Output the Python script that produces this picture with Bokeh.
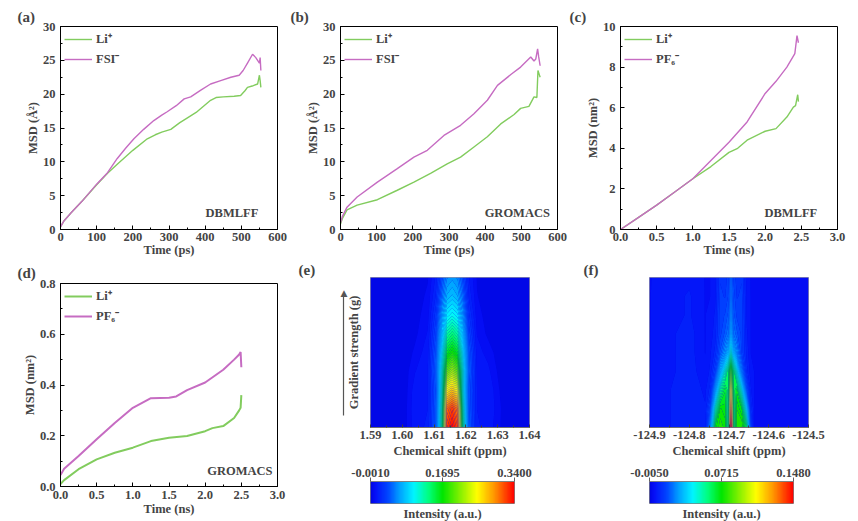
import numpy as np
from bokeh.plotting import figure
from bokeh.layouts import row, column
from bokeh.models import (Legend, LegendItem, Label, SingleIntervalTicker, FixedTicker,
                          PrintfTickFormatter, LinearAxis, LinearColorMapper, Range1d)
from bokeh.embed import file_html
from bokeh.resources import INLINE

FONT = "Liberation Serif"
GREEN = "#82cc5e"
PURPLE = "#c66cc2"

# ---- (a) DBMLFF, LiFSI, MSD in A^2 vs time in ps
a_t_li = [0, 10, 30, 60, 100, 130, 160, 200, 240, 262, 280, 305, 330, 351, 375, 397,
          415, 430, 450, 480, 498, 510, 517, 530, 545, 550, 552, 554]
a_li = [0.4, 1.3, 2.5, 4.2, 6.6, 8.3, 9.8, 11.7, 13.4, 14.0, 14.4, 14.8, 15.8, 16.5, 17.3,
        18.3, 19.1, 19.5, 19.6, 19.7, 19.8, 20.5, 21.0, 21.2, 21.5, 22.8, 22.0, 21.0]
a_t_fsi = [0, 10, 30, 60, 100, 130, 157, 180, 203, 230, 258, 280, 295, 320, 342, 360, 388,
           415, 443, 471, 494, 505, 517, 531, 540, 545, 550, 552, 554]
a_fsi = [0.4, 1.3, 2.5, 4.2, 6.7, 8.4, 10.5, 12.0, 13.4, 14.8, 16.1, 16.9, 17.4, 18.3, 19.3,
         19.6, 20.6, 21.5, 22.0, 22.5, 22.8, 23.5, 24.6, 25.9, 25.4, 25.0, 24.6, 25.4, 23.5]

# ---- (b) GROMACS, LiFSI
b_t_li = [0, 5, 18, 46, 102, 157, 203, 249, 295, 332, 369, 406, 443, 480, 498, 521, 535,
          543, 546, 549, 552]
b_li = [0.8, 1.6, 2.9, 3.6, 4.4, 5.8, 7.0, 8.3, 9.7, 10.7, 12.2, 13.7, 15.6, 17.0, 17.9,
        18.2, 19.6, 19.5, 23.5, 23.0, 22.5]
b_t_fsi = [0, 5, 18, 46, 102, 157, 203, 240, 286, 332, 369, 406, 434, 471, 498, 526, 535,
           540, 545, 548, 552]
b_fsi = [1.0, 1.9, 3.3, 4.8, 7.0, 9.0, 10.7, 11.7, 13.9, 15.4, 17.1, 19.1, 21.3, 22.9, 24.0,
         25.5, 24.9, 25.2, 26.7, 25.5, 24.2]

# ---- (c) DBMLFF, LiPF6, MSD in nm^2 vs time in ns
c_t_li = [0, 0.25, 0.5, 0.75, 1.0, 1.25, 1.5, 1.62, 1.75, 2.0, 2.15, 2.3, 2.39, 2.42, 2.45, 2.46]
c_li = [0, 0.6, 1.2, 1.85, 2.5, 3.1, 3.8, 4.0, 4.4, 4.84, 4.97, 5.54, 6.03, 6.1, 6.64, 6.3]
c_t_pf = [0, 0.25, 0.5, 0.75, 1.0, 1.25, 1.5, 1.75, 2.0, 2.15, 2.3, 2.41, 2.44, 2.46]
c_pf = [0, 0.6, 1.2, 1.85, 2.5, 3.4, 4.3, 5.3, 6.7, 7.3, 8.0, 8.66, 9.55, 9.2]

# ---- (d) GROMACS, LiPF6
d_t_li = [0, 0.05, 0.25, 0.5, 0.75, 1.0, 1.25, 1.5, 1.75, 2.0, 2.1, 2.25, 2.4, 2.47, 2.49, 2.5]
d_li = [0.01, 0.025, 0.068, 0.107, 0.133, 0.153, 0.179, 0.192, 0.199, 0.218, 0.23, 0.238,
        0.27, 0.30, 0.31, 0.36]
d_t_pf = [0, 0.05, 0.25, 0.5, 0.75, 1.0, 1.25, 1.5, 1.6, 1.75, 2.0, 2.25, 2.4, 2.47, 2.49, 2.5]
d_pf = [0.045, 0.07, 0.12, 0.186, 0.25, 0.31, 0.348, 0.35, 0.355, 0.38, 0.41, 0.46, 0.50,
        0.52, 0.53, 0.47]

# ---- (e) 7Li DOSY map: rows = gradient steps (bottom -> top), cols = chemical shift
e_shift = [1.590, 1.601, 1.604, 1.608, 1.6105, 1.6125, 1.6140, 1.6157, 1.6174, 1.6190,
           1.6210, 1.6235, 1.6270, 1.6300, 1.6325, 1.640]
e_grad = [0, 0.125, 0.25, 0.375, 0.5, 0.625, 0.75, 0.875, 1.0]
e_int = [
    [0, 0.003, 0.014, 0.017, 0.050, 0.150, 0.322, 0.338, 0.318, 0.150, 0.048, 0.017, 0.014, 0.007, 0, 0],
    [0, 0.003, 0.015, 0.016, 0.048, 0.140, 0.305, 0.322, 0.300, 0.140, 0.045, 0.016, 0.015, 0.008, 0, 0],
    [0, 0.002, 0.014, 0.016, 0.045, 0.130, 0.250, 0.272, 0.245, 0.125, 0.043, 0.016, 0.016, 0.006, 0, 0],
    [0, 0.002, 0.010, 0.016, 0.050, 0.125, 0.200, 0.220, 0.198, 0.125, 0.048, 0.015, 0.012, 0.004, 0, 0],
    [0, 0.001, 0.006, 0.014, 0.045, 0.110, 0.160, 0.175, 0.160, 0.110, 0.045, 0.013, 0.008, 0.002, 0, 0],
    [0, 0.000, 0.003, 0.011, 0.038, 0.090, 0.128, 0.140, 0.128, 0.090, 0.036, 0.010, 0.003, 0.001, 0, 0],
    [0, 0.000, 0.002, 0.008, 0.030, 0.070, 0.097, 0.105, 0.097, 0.068, 0.028, 0.007, 0.002, 0.000, 0, 0],
    [0, 0.000, 0.001, 0.006, 0.022, 0.053, 0.074, 0.080, 0.073, 0.052, 0.020, 0.005, 0.001, 0.000, 0, 0],
    [0, 0.000, 0.000, 0.004, 0.017, 0.042, 0.060, 0.065, 0.060, 0.041, 0.016, 0.004, 0.000, 0.000, 0, 0],
]
e_xticks = [1.59, 1.60, 1.61, 1.62, 1.63, 1.64]
e_cticks = [-0.0010, 0.1695, 0.3400]

# ---- (f) 19F DOSY map: central spike with two side ridges that merge upward
f_shift = [-124.90, -124.80, -124.760, -124.748, -124.735, -124.722, -124.710, -124.702,
           -124.698, -124.695, -124.692, -124.688, -124.680, -124.668, -124.655, -124.645,
           -124.636, -124.50]
f_grad = [0, 0.125, 0.25, 0.375, 0.5, 0.625, 0.75, 0.875, 1.0]
f_int = [
    [0, 0.005, 0.004, 0.026, 0.070, 0.076, 0.073, 0.058, 0.128, 0.147, 0.128, 0.062, 0.075, 0.077, 0.062, 0.014, 0, 0],
    [0, 0.005, 0.003, 0.014, 0.052, 0.072, 0.070, 0.056, 0.112, 0.130, 0.110, 0.060, 0.074, 0.069, 0.040, 0.007, 0, 0],
    [0, 0.005, 0.002, 0.006, 0.028, 0.055, 0.066, 0.060, 0.096, 0.110, 0.092, 0.062, 0.068, 0.048, 0.016, 0.003, 0, 0],
    [0, 0.004, 0.001, 0.003, 0.012, 0.032, 0.050, 0.062, 0.074, 0.080, 0.072, 0.062, 0.048, 0.022, 0.006, 0.001, 0, 0],
    [0, 0.004, 0.000, 0.002, 0.006, 0.016, 0.025, 0.035, 0.045, 0.050, 0.044, 0.035, 0.024, 0.012, 0.004, 0.000, 0, 0],
    [0, 0.004, 0.000, 0.001, 0.004, 0.012, 0.016, 0.020, 0.028, 0.034, 0.028, 0.020, 0.016, 0.012, 0.003, 0.000, 0, 0],
    [0, 0.003, 0.000, 0.001, 0.003, 0.012, 0.013, 0.016, 0.022, 0.028, 0.022, 0.016, 0.012, 0.012, 0.002, 0.000, 0, 0],
    [0, 0.003, 0.000, 0.000, 0.002, 0.011, 0.010, 0.013, 0.018, 0.024, 0.018, 0.014, 0.010, 0.011, 0.002, 0.000, 0, 0],
    [0, 0.002, 0.000, 0.000, 0.002, 0.010, 0.008, 0.012, 0.016, 0.022, 0.016, 0.012, 0.009, 0.010, 0.001, 0.000, 0, 0],
]
f_xticks = [-124.9, -124.8, -124.7, -124.6, -124.5]
f_cticks = [-0.0050, 0.0715, 0.1480]

# Origin-like rainbow colour map anchors
RAINBOW = [(0.00, (0, 5, 225)), (0.03, (5, 15, 248)), (0.12, (0, 70, 255)),
           (0.20, (0, 160, 255)), (0.30, (0, 245, 255)), (0.40, (0, 255, 130)),
           (0.50, (0, 230, 0)), (0.62, (130, 240, 0)), (0.74, (255, 255, 0)),
           (0.86, (255, 150, 0)), (1.00, (255, 0, 0))]


def rainbow(f):
    f = min(max(f, 0.0), 1.0)
    for (f0, c0), (f1, c1) in zip(RAINBOW[:-1], RAINBOW[1:]):
        if f <= f1:
            t = (f - f0) / (f1 - f0)
            return "#%02x%02x%02x" % tuple(int(round(a + (b - a) * t)) for a, b in zip(c0, c1))
    return "#ff0000"


def style_axis(ax, tick_size="12.5px", label_size="12.5px"):
    ax.major_label_text_font = FONT
    ax.major_label_text_font_style = "bold"
    ax.major_label_text_font_size = tick_size
    ax.axis_label_text_font = FONT
    ax.axis_label_text_font_style = "bold"
    ax.axis_label_text_font_size = label_size
    ax.major_tick_in = 4
    ax.major_tick_out = 0
    ax.minor_tick_in = 2
    ax.minor_tick_out = 0


def panel_title(p, text, offset, standoff):
    p.title.text = text
    p.title.align = "left"
    p.title.offset = offset
    p.title.standoff = standoff
    p.title.text_font = FONT
    p.title.text_font_style = "bold"
    p.title.text_font_size = "15px"


def msd_panel(tag, xr, yr, xstep, ystep, xlabel, ylabel, li, an, names, engine, eng_xy,
              xfmt=None, yfmt=None, left=60, right=12, top=26, bottom=30, tstand=3,
              toff=-43, lw=1.4, lab_stand=(3, -1)):
    p = figure(frame_width=217, frame_height=203, x_range=Range1d(*xr), y_range=Range1d(*yr),
               toolbar_location=None, output_backend="svg", title=tag,
               min_border_left=left, min_border_right=right,
               min_border_top=top, min_border_bottom=bottom)
    panel_title(p, tag, toff, tstand)
    p.grid.visible = False
    p.outline_line_color = "black"
    p.outline_line_alpha = 1
    p.outline_line_width = 1
    r1 = p.line(li[0], li[1], line_color=GREEN, line_width=lw)
    r2 = p.line(an[0], an[1], line_color=PURPLE, line_width=lw)
    leg = Legend(items=[LegendItem(label=names[0], renderers=[r1]),
                        LegendItem(label=names[1], renderers=[r2])],
                 location="top_left", margin=4, padding=7, spacing=3,
                 glyph_width=28, glyph_height=12, label_standoff=4,
                 label_text_font=FONT, label_text_font_style="bold",
                 label_text_font_size="12.5px", background_fill_alpha=0,
                 border_line_color=None)
    p.add_layout(leg)
    p.xaxis.ticker = SingleIntervalTicker(interval=xstep, num_minor_ticks=2)
    p.yaxis.ticker = SingleIntervalTicker(interval=ystep, num_minor_ticks=2)
    if xfmt:
        p.xaxis.formatter = PrintfTickFormatter(format=xfmt)
    if yfmt:
        p.yaxis.formatter = PrintfTickFormatter(format=yfmt)
    p.xaxis.axis_label = xlabel
    p.yaxis.axis_label = ylabel
    style_axis(p.xaxis[0])
    style_axis(p.yaxis[0])
    p.xaxis.major_label_standoff = lab_stand[0]
    p.xaxis.axis_label_standoff = lab_stand[1]
    p.yaxis.major_label_standoff = 5
    p.yaxis.axis_label_standoff = 0
    p.add_layout(Label(x=eng_xy[0], y=eng_xy[1], text=engine, text_align="right",
                       text_baseline="middle", text_font=FONT, text_font_style="bold",
                       text_font_size="12.5px"))
    return p


def nmr_panel(tag, shift, grad, inten, cticks, xticks, xfmt, toff, right, ylabel=None):
    low, high = cticks[0], cticks[-1]
    xr = (shift[0], shift[-1])
    p = figure(frame_width=159, frame_height=150, x_range=Range1d(*xr), y_range=Range1d(0, 1),
               toolbar_location=None, output_backend="svg", title=tag,
               min_border_left=73, min_border_right=right,
               min_border_top=17, min_border_bottom=33)
    panel_title(p, tag, toff, 0)
    p.grid.visible = False
    p.background_fill_color = rainbow(0.01)
    p.outline_line_color = "#9090a8"
    levels = np.linspace(low, high, 61)
    fills = [rainbow(((a + b) / 2 - low) / (high - low)) for a, b in zip(levels[:-1], levels[1:])]
    cr = p.contour(np.array(shift), np.array(grad), np.array(inten), levels,
                   fill_color=fills, line_color=None)
    g = cr.fill_renderer.glyph
    g.line_color = g.fill_color
    g.line_width = 1.2
    minor = [(a + b) / 2 for a, b in zip(xticks[:-1], xticks[1:])]
    p.xaxis.ticker = FixedTicker(ticks=xticks, minor_ticks=minor)
    p.xaxis.formatter = PrintfTickFormatter(format=xfmt)
    p.xaxis.axis_label = "Chemical shift (ppm)"
    style_axis(p.xaxis[0])
    p.xaxis.major_tick_in = 3
    p.xaxis.minor_tick_in = 2
    p.xaxis.axis_line_color = "#707070"
    p.xaxis.major_tick_line_color = "#404040"
    p.xaxis.minor_tick_line_color = "#404040"
    p.xaxis.major_label_standoff = 3
    p.xaxis.axis_label_standoff = 2
    ya = p.yaxis[0]
    style_axis(ya)
    ya.ticker = FixedTicker(ticks=[], minor_ticks=[])
    ya.major_tick_in = 0
    ya.minor_tick_in = 0
    ya.axis_line_color = None
    if ylabel:
        ya.axis_label = ylabel
        ya.axis_label_standoff = 10
        # gray arrow left of the label: an axis line with a triangle as its only tick label
        arrow_ax = LinearAxis(ticker=FixedTicker(ticks=[0.9], minor_ticks=[]), bounds=(0.08, 0.89),
                              major_label_overrides={0.9: "\u25b2"},
                              axis_line_color="#555555", axis_line_width=1.2,
                              major_tick_in=0, major_tick_out=0,
                              minor_tick_in=0, minor_tick_out=0,
                              major_label_standoff=-4,
                              major_label_text_font="DejaVu Sans",
                              major_label_text_font_size="9px",
                              major_label_text_color="#555555")
        p.add_layout(arrow_ax, "left")
    return p


def cbar_panel(ticks, left, right):
    low, high = ticks[0], ticks[-1]
    p = figure(frame_width=144, frame_height=22, x_range=Range1d(low, high), y_range=Range1d(0, 1),
               toolbar_location=None, output_backend="svg",
               x_axis_location=None, y_axis_location=None,
               min_border_left=left, min_border_right=right,
               min_border_top=21, min_border_bottom=16)
    p.grid.visible = False
    p.outline_line_color = "#808080"
    mapper = LinearColorMapper(palette=[rainbow(i / 255) for i in range(256)], low=low, high=high)
    p.image(image=[np.linspace(low, high, 256)[None, :]], x=low, y=0, dw=high - low, dh=1,
            color_mapper=mapper)
    top = LinearAxis(ticker=FixedTicker(ticks=ticks, minor_ticks=[]),
                     formatter=PrintfTickFormatter(format="%.4f"))
    style_axis(top)
    top.major_tick_in = 0
    top.major_tick_out = 4
    top.axis_line_color = "#808080"
    top.major_tick_line_color = "#606060"
    top.major_label_standoff = 1
    p.add_layout(top, "above")
    bot = LinearAxis(ticker=FixedTicker(ticks=[], minor_ticks=[]), axis_label="Intensity (a.u.)")
    style_axis(bot)
    bot.axis_line_color = None
    bot.major_tick_in = 0
    bot.minor_tick_in = 0
    bot.axis_label_standoff = 3
    p.add_layout(bot, "below")
    return p


LI = "Li\u207a"
FSI = "FSI\u207b"
PF6 = "PF\u2086\u207b"

pa = msd_panel("(a)", (0, 600), (0, 30), 100, 5, "Time (ps)", "MSD (\u00c5\u00b2)",
               (a_t_li, a_li), (a_t_fsi, a_fsi), (LI, FSI), "DBMLFF", (547, 2.5))
pb = msd_panel("(b)", (0, 600), (0, 30), 100, 5, "Time (ps)", "MSD (\u00c5\u00b2)",
               (b_t_li, b_li), (b_t_fsi, b_fsi), (LI, FSI), "GROMACS", (579, 2.5),
               left=51, toff=-50)
pc = msd_panel("(c)", (0, 3), (0, 10), 0.5, 2, "Time (ns)", "MSD (nm\u00b2)",
               (c_t_li, c_li), (c_t_pf, c_pf), (LI, PF6), "DBMLFF", (2.72, 0.83),
               xfmt="%.1f", left=51, right=13, toff=-51)
pd_ = msd_panel("(d)", (0, 3), (0, 0.8), 0.5, 0.2, "Time (ns)", "MSD (nm\u00b2)",
                (d_t_li, d_li), (d_t_pf, d_pf), (LI, PF6), "GROMACS", (2.93, 0.063),
                xfmt="%.1f", yfmt="%.1f", top=24, bottom=32, tstand=6, lw=2.0,
                lab_stand=(4, 0))

pe = nmr_panel("(e)", e_shift, e_grad, e_int, e_cticks, e_xticks, "%.2f", -72, 48,
               ylabel="Gradient strength (g)")
pf = nmr_panel("(f)", f_shift, f_grad, f_int, f_cticks, f_xticks, "%.1f", -66, 49)
pe_cb = cbar_panel(e_cticks, 81, 55)
pf_cb = cbar_panel(f_cticks, 80, 57)

p = column(row(pa, pb, pc), row(pd_, column(pe, pe_cb), column(pf, pf_cb)))

open("out.html", "w").write(file_html(p, INLINE))
